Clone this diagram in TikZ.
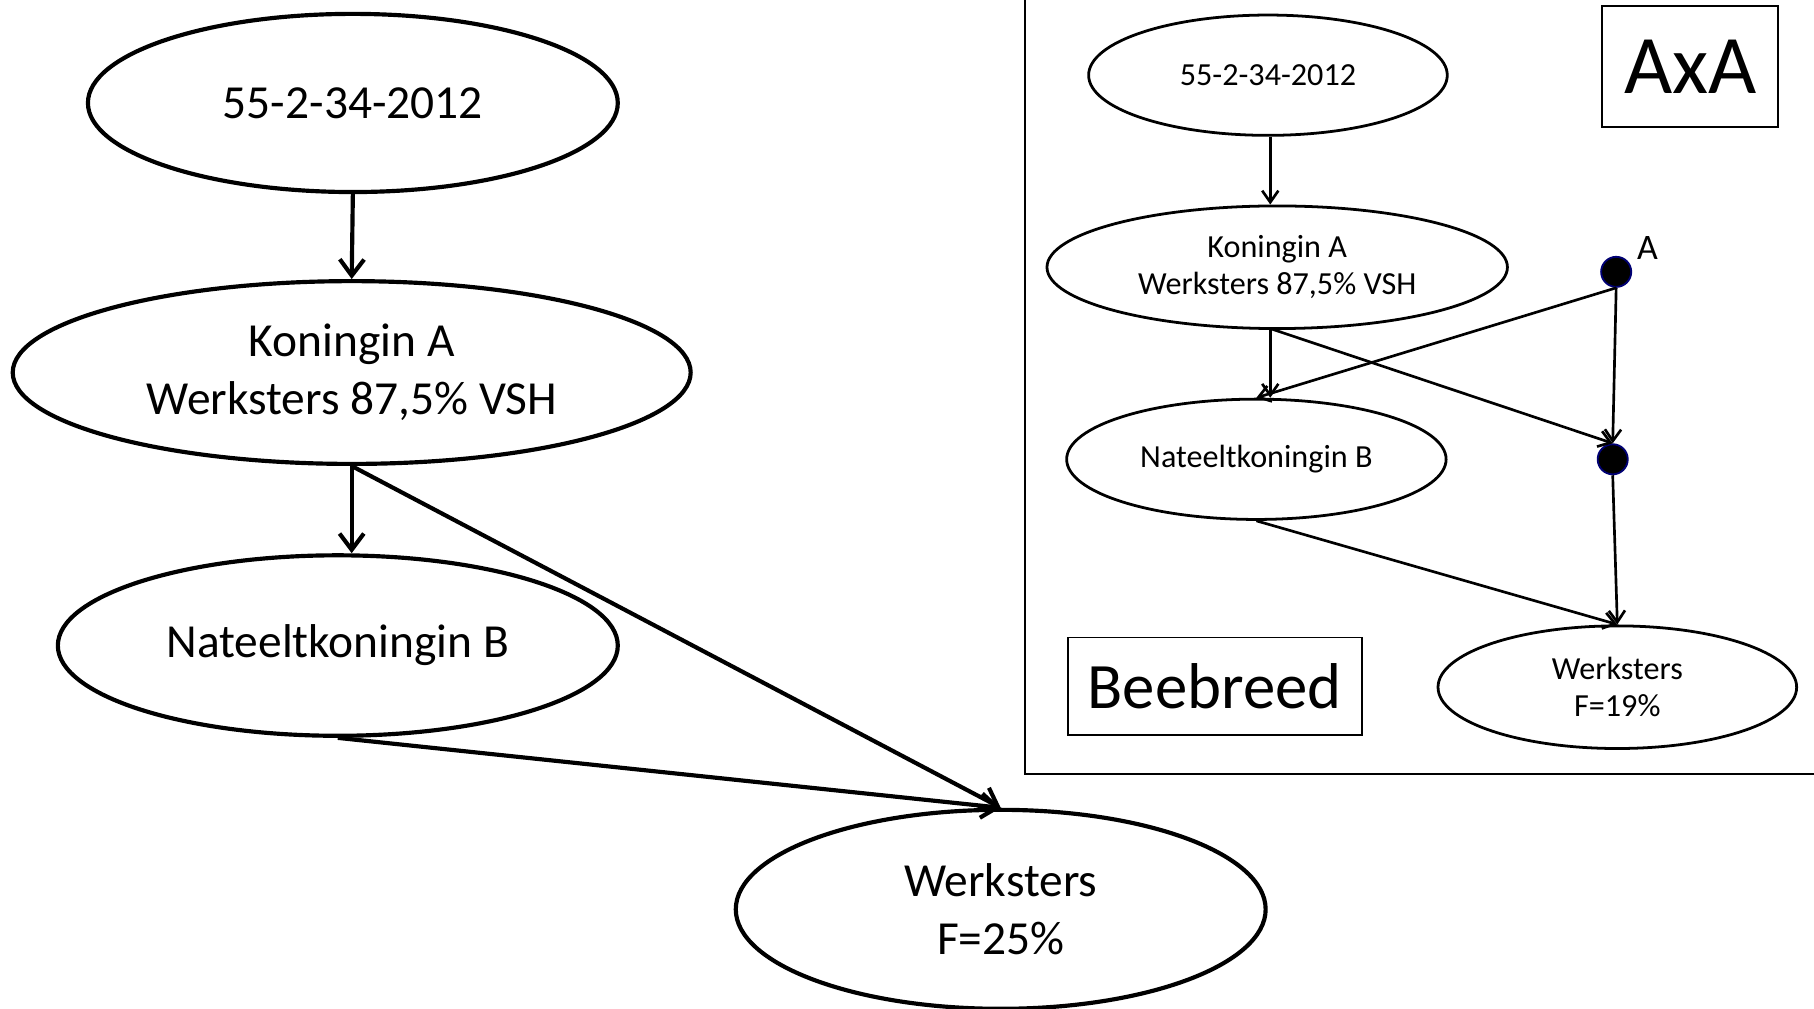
\documentclass[tikz,border=0pt]{standalone}
\usepackage{fontspec}
\setmainfont{Carlito}
\usetikzlibrary{shapes.geometric,arrows.meta}
\begin{document}
\begin{tikzpicture}[x=0.5pt,y=-0.5pt,
 bigell/.style={ellipse,draw,line width=1.8pt,inner sep=0pt,align=center,font=\fontsize{20.5}{25}\selectfont},
 smallell/.style={ellipse,draw,line width=1.2pt,inner sep=0pt,align=center,font=\fontsize{13.9}{16}\selectfont},
 bigarr/.style={line width=1.8pt,-{Straight Barb[length=7pt,width=10.5pt]}},
 smallarr/.style={line width=1.15pt,-{Straight Barb[length=5pt,width=7pt]}},
 dotnode/.style={circle,fill=black,draw=blue!45!black,line width=0.8pt,minimum size=13pt,inner sep=0pt},
 boxlabel/.style={draw,line width=0.8pt,inner sep=0pt}
]
\useasboundingbox (0,0) rectangle (1568,872);
% left diagram
\node[bigell,minimum width=229pt,minimum height=77pt] (E1) at (305,89) {55-2-34-2012};
\node[bigell,minimum width=293pt,minimum height=79pt] (E2) at (304,322) {Koningin A\\Werksters 87,5\% VSH};
\node[bigell,minimum width=242pt,minimum height=78pt] (E3) at (292,558) {Nateeltkoningin B};
\node[bigell,minimum width=229pt,minimum height=86pt] (E4) at (865,786) {Werksters\\F=25\%};
\draw[bigarr] (E1.south) -- (E2.north);
\draw[bigarr] (E2.south) -- (E2.south |- E3.north);
\draw[bigarr] (E2.south) -- (E4.north);
\draw[bigarr] (E3.south) -- (E4.north);
% right panel frame
\draw[line width=0.8pt] (886,0) -- (886,669) -- (1568,669);
\node[smallell,minimum width=155pt,minimum height=52pt] (R1) at (1096,65) {55-2-34-2012};
\node[smallell,minimum width=199pt,minimum height=53pt] (R2) at (1104,231) {Koningin A\\Werksters 87,5\% VSH};
\node[smallell,minimum width=164pt,minimum height=52pt] (R3) at (1086,397) {Nateeltkoningin B};
\node[smallell,minimum width=155pt,minimum height=53pt] (R4) at (1398,594) {Werksters\\F=19\%};
\node[dotnode] (DA) at (1397,235) {};
\node[font=\fontsize{15.5}{18}\selectfont,inner sep=0pt] (LA) at (1424,214) {A};
\node[dotnode] (D2) at (1394,397) {};
\node[boxlabel,minimum width=76pt,minimum height=52.5pt,font=\fontsize{36}{40}\selectfont] (AxA) at (1461,57.5) {AxA};
\node[boxlabel,minimum width=127pt,minimum height=42pt,font=\fontsize{28}{32}\selectfont] (BB) at (1050,593) {Beebreed};
\coordinate (R2b) at (1098,284);
\draw[smallarr] (R1.south -| R2b) -- (R2.north -| R2b);
\draw[smallarr] (R2b) -- (R3.north -| R2b);
\draw[smallarr] (DA.south) -- (R3.north);
\draw[smallarr] (R2b) -- (D2.north);
\draw[smallarr] (DA.south) -- (D2.north);
\draw[smallarr] (R3.south) -- (R4.north);
\draw[smallarr] (D2.south) -- (R4.north);
\end{tikzpicture}
\end{document}
